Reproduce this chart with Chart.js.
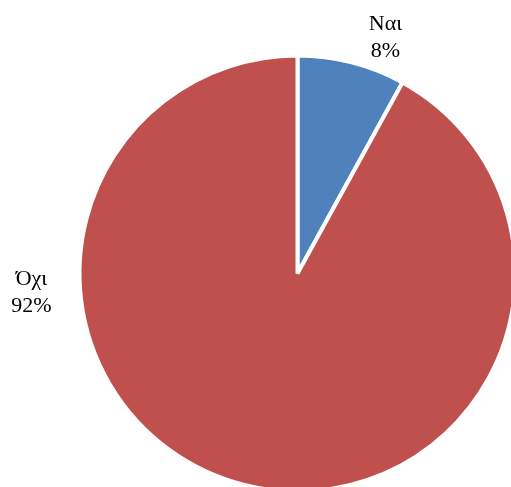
<!DOCTYPE html>
<html>
<head>
<meta charset="utf-8">
<script src="https://cdn.jsdelivr.net/npm/chart.js@4/dist/chart.umd.min.js"></script>
<style>
html,body{margin:0;padding:0;background:#fff;overflow:hidden;width:511px;height:487px;}
canvas{display:block;}
</style>
</head>
<body>
<canvas id="c" width="600" height="560"></canvas>
<script>
const categories = ["Ναι", "Όχι"];
const values = [8, 92];
const colors = ["#4F81BD", "#C0504D"];

const labelPlugin = {
  id: 'pieLabels',
  afterDraw(chart) {
    const ctx = chart.ctx;
    const meta = chart.getDatasetMeta(0);
    const arc0 = meta.data[0];
    const cx = arc0.x, cy = arc0.y, r = arc0.outerRadius;
    const total = values.reduce((a, b) => a + b, 0);
    const place = [
      {dx: 88 / 218, dy: -244 / 218},
      {dx: -266 / 218, dy: 11 / 218}
    ];
    ctx.save();
    ctx.font = '22px "Liberation Serif", "Times New Roman", serif';
    ctx.fillStyle = '#000';
    ctx.textAlign = 'center';
    ctx.textBaseline = 'alphabetic';
    categories.forEach((c, i) => {
      const x = cx + place[i].dx * r;
      const y = cy + place[i].dy * r;
      ctx.fillText(c, x, y);
      ctx.fillText(Math.round(values[i] / total * 100) + '%', x, y + 27);
    });
    ctx.restore();
  }
};

new Chart(document.getElementById('c'), {
  type: 'pie',
  data: {
    labels: categories,
    datasets: [{
      data: values,
      backgroundColor: colors,
      borderColor: '#ffffff',
      borderWidth: 4
    }]
  },
  options: {
    responsive: false,
    animation: false,
    layout: {padding: {top: 53.5, bottom: 66.5, left: 77.5, right: 82.5}},
    plugins: {legend: {display: false}, tooltip: {enabled: false}}
  },
  plugins: [labelPlugin]
});
</script>
</body>
</html>
